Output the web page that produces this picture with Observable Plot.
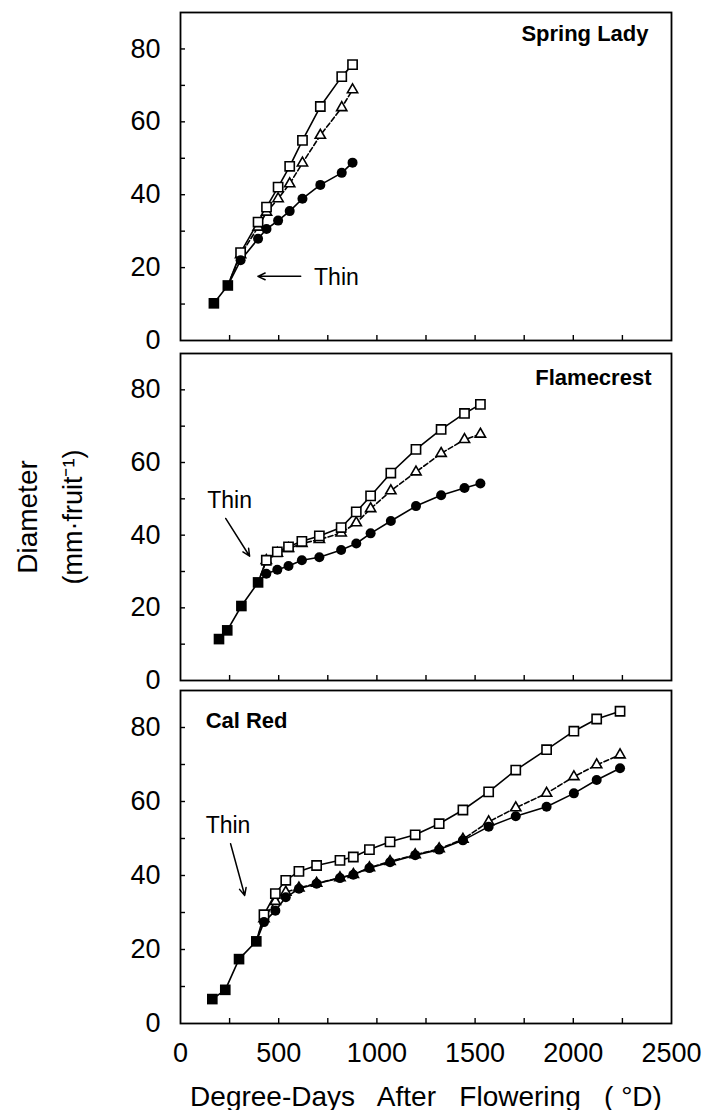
<!DOCTYPE html>
<html><head><meta charset="utf-8">
<script src="https://cdn.jsdelivr.net/npm/d3@7"></script>
<script src="https://cdn.jsdelivr.net/npm/@observablehq/plot@0.6"></script>
<style>
body{margin:0;background:#fff;}
#chart{position:relative;width:707px;height:1110px;}
#chart svg{position:absolute;left:0;overflow:visible;background:transparent;}
</style></head><body><div id="chart"></div>
<script>
// ---- data ----
const cultivars = ["Spring Lady", "Flamecrest", "Cal Red"];

// pre-thinning (common) points: filled squares
const slPreX = [170, 241];
const slPreY = [10.2, 15.1];
const flPreX = [196, 238, 310, 395];
const flPreY = [11.4, 13.8, 20.5, 27.0];
const crPreX = [162, 228, 298, 386];
const crPreY = [6.6, 9.1, 17.4, 22.2];

// post-thinning series: open squares, open triangles, filled circles
const slX        = [306, 395, 438, 497, 556, 621, 712, 821, 876];
const slSquare   = [24.1, 32.5, 36.6, 42.1, 47.8, 54.9, 64.2, 72.4, 75.7];
const slTriangle = [23.5, 31.1, 35.2, 38.9, 43.0, 48.7, 56.3, 63.9, 68.8];
const slCircle   = [22.0, 27.9, 30.6, 32.9, 35.5, 38.9, 42.7, 46.0, 48.8];

const flX        = [437, 493, 550, 618, 707, 818, 895, 968, 1071, 1199, 1327, 1446, 1527];
const flSquare   = [33.1, 35.4, 36.8, 38.3, 39.8, 42.1, 46.4, 50.8, 57.1, 63.6, 69.1, 73.5, 76.0];
const flTriangle = [33.0, 35.0, 36.3, 37.7, 38.8, 40.6, 43.4, 47.3, 52.2, 57.4, 62.5, 66.3, 67.8];
const flCircle   = [29.4, 30.5, 31.5, 33.1, 33.9, 35.9, 37.7, 40.5, 43.9, 48.0, 51.0, 53.0, 54.2];

const crX        = [425, 483, 536, 603, 693, 812, 880, 962, 1067, 1195, 1317, 1438, 1569, 1707, 1864, 2003, 2119, 2238];
const crSquare   = [29.4, 35.1, 38.7, 41.1, 42.7, 44.1, 45.0, 47.0, 49.1, 51.0, 54.0, 57.7, 62.6, 68.5, 74.0, 79.0, 82.3, 84.4];
const crTriangle = [28.3, 33.0, 35.5, 36.6, 37.9, 39.4, 40.3, 42.1, 43.8, 45.6, 47.2, 49.8, 54.5, 58.3, 62.2, 66.7, 69.9, 72.6];
const crCircle   = [27.4, 30.5, 34.1, 36.4, 37.8, 39.3, 40.2, 42.0, 43.6, 45.5, 47.0, 49.5, 53.2, 56.0, 58.6, 62.2, 65.8, 69.0];

// axis ticks
const yTickLabels = [0, 20, 40, 60, 80];
const yTickMarks = [10, 20, 30, 40, 50, 60, 70, 80];
const xTickLabels = [0, 500, 1000, 1500, 2000, 2500];
const xTickMarks = [250, 500, 750, 1000, 1250, 1500, 1750, 2000, 2250];
const xTitle = "Degree-Days\u00a0\u00a0 After\u00a0\u00a0 Flowering\u00a0\u00a0 (\u00a0°D)";
const yTitle = ["Diameter", "(mm·fruit⁻¹)"];

// panel-name label anchors (data units)
const nameX = [2383, 2398, 128];
const nameY = [82.3, 81.3, 80.0];
const nameAnchor = ["end", "end", "start"];

// "Thin" annotation (data units): label position and arrow
const thinX = [680, 136, 128];
const thinY = [15.1, 47.4, 51.4];
const thinArrowX1 = [612, 230, 255];
const thinArrowY1 = [17.6, 44.6, 48.6];
const thinArrowX2 = [394, 352, 327];
const thinArrowY2 = [17.6, 34.2, 34.6];

// ---- drawing ----
const FONT = "'Liberation Sans', Arial, Helvetica, sans-serif";
const W = 707, ML = 180, MR = 36;
const layout = [
  {top: 0,   height: 346, mt: 12, mb: 6},
  {top: 346, height: 339, mt: 7,  mb: 5},
  {top: 685, height: 425, mt: 5,  mb: 87}
];
const panels = [
  {preX: slPreX, preY: slPreY, x: slX, sq: slSquare, tri: slTriangle, cir: slCircle},
  {preX: flPreX, preY: flPreY, x: flX, sq: flSquare, tri: flTriangle, cir: flCircle},
  {preX: crPreX, preY: crPreY, x: crX, sq: crSquare, tri: crTriangle, cir: crCircle}
];

const chart = document.getElementById("chart");

panels.forEach((p, i) => {
  const L = layout[i];
  const frameW = W - ML - MR;
  const frameH = L.height - L.mt - L.mb;
  const pre = p.preX.map((d, j) => ({x: d, y: p.preY[j]}));
  const last = pre[pre.length - 1];
  const series = arr => p.x.map((d, j) => ({x: d, y: arr[j]}));
  const S = series(p.sq), T = series(p.tri), C = series(p.cir);
  const lineOpts = {x: "x", y: "y", stroke: "black", strokeWidth: 1.6};

  const marks = [
    Plot.frame({stroke: "black", strokeWidth: 1.8}),
    Plot.tickY(yTickMarks, {y: d => d, insetRight: frameW - 5, stroke: "black", strokeWidth: 1.4}),
    Plot.tickX(xTickMarks, {x: d => d, insetTop: frameH - 5, stroke: "black", strokeWidth: 1.4}),
    Plot.axisY(yTickLabels, {tickSize: 0, tickPadding: 20, fontSize: 27, label: null, fill: "black",
      tickFormat: d => String(d)}),
    Plot.line(pre, lineOpts),
    Plot.line([last, ...T], {...lineOpts, strokeDasharray: "5,2.5"}),
    Plot.line([last, ...S], lineOpts),
    Plot.line([last, ...C], lineOpts),
    Plot.dot(T, {x: "x", y: "y", symbol: "triangle", r: 3.8, fill: "white", stroke: "black", strokeWidth: 1.6}),
    Plot.dot(S, {x: "x", y: "y", symbol: "square", r: 5.2, fill: "white", stroke: "black", strokeWidth: 1.6}),
    Plot.dot(C, {x: "x", y: "y", symbol: "circle", r: 5, fill: "black", stroke: "none"}),
    Plot.dot(pre, {x: "x", y: "y", symbol: "square", r: 6, fill: "black", stroke: "none"}),
    Plot.text([{x: nameX[i], y: nameY[i], t: cultivars[i]}], {
      x: "x", y: "y", text: "t", textAnchor: nameAnchor[i], lineAnchor: "bottom",
      fontSize: 22, fontWeight: "bold", fill: "black"}),
    Plot.text([{x: thinX[i], y: thinY[i], t: "Thin"}], {
      x: "x", y: "y", text: "t", textAnchor: "start", lineAnchor: "bottom",
      fontSize: 23, fill: "black"}),
    Plot.arrow([{x1: thinArrowX1[i], y1: thinArrowY1[i], x2: thinArrowX2[i], y2: thinArrowY2[i]}], {
      x1: "x1", y1: "y1", x2: "x2", y2: "y2", stroke: "black", strokeWidth: 1.5,
      headLength: 8, headAngle: 50})
  ];
  if (i === 1) {
    marks.push(Plot.text([yTitle[0]], {text: d => d, frameAnchor: "left", dx: -144, rotate: -90,
      lineAnchor: "bottom", textAnchor: "middle", fontSize: 28, fill: "black"}));
    marks.push(Plot.text([yTitle[1]], {text: d => d, frameAnchor: "left", dx: -99, rotate: -90,
      lineAnchor: "bottom", textAnchor: "middle", fontSize: 27, fill: "black"}));
  }
  if (i === 2) {
    marks.push(Plot.axisX(xTickLabels, {tickSize: 0, tickPadding: 19, fontSize: 27, label: null, fill: "black",
      tickFormat: d => String(d)}));
    marks.push(Plot.text([xTitle], {text: d => d, frameAnchor: "bottom", dy: 82, lineAnchor: "bottom",
      textAnchor: "middle", fontSize: 28, fill: "black", style: "letter-spacing:0.4px"}));
  }

  const svg = Plot.plot({
    width: W, height: L.height,
    marginLeft: ML, marginRight: MR, marginTop: L.mt, marginBottom: L.mb,
    x: {domain: [0, 2500], axis: null},
    y: {domain: [0, 90], axis: null},
    style: {fontFamily: FONT, background: "transparent", overflow: "visible", color: "black"},
    marks
  });
  svg.style.top = L.top + "px";
  chart.appendChild(svg);
});
</script>
</body></html>
